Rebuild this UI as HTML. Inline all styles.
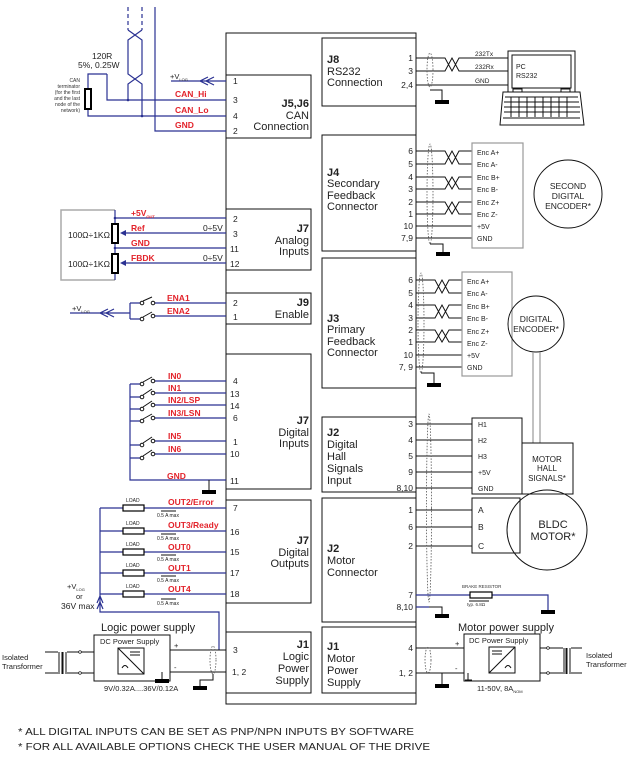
<!DOCTYPE html>
<html><head><meta charset="utf-8"><style>
html,body{margin:0;padding:0;background:#fff;}
svg{display:block;font-family:"Liberation Sans",Arial,sans-serif;}
.k{stroke:#111;stroke-width:1;fill:none}
.b{stroke:#2a3192;stroke-width:1.2;fill:none}
.g{stroke:#999;stroke-width:1.2;fill:none}
.r{fill:#e3232b;font-weight:bold;font-size:8.5px}
.p{font-size:8.5px;fill:#222}
.t{font-size:11px;fill:#222}
.s{font-size:7.5px;fill:#222}
.d{stroke:#555;stroke-width:0.8;fill:none;stroke-dasharray:1.5,1.5}
</style></head><body>
<svg width="637" height="760" viewBox="0 0 637 760" xmlns="http://www.w3.org/2000/svg">
<defs>
<g id="gnd"><rect x="-7" y="0" width="14" height="4" fill="#000"/></g>
</defs>
<!-- main boxes -->
<path class="k" d="M226,33 H416 V704 H226 Z"/>
<rect class="k" x="226" y="75" width="85" height="63" fill="#fff"/>
<rect class="k" x="226" y="209" width="85" height="61" fill="#fff"/>
<rect class="k" x="226" y="293" width="85" height="31" fill="#fff"/>
<rect class="k" x="226" y="354" width="85" height="135" fill="#fff"/>
<rect class="k" x="226" y="500" width="85" height="103" fill="#fff"/>
<rect class="k" x="226" y="632" width="85" height="61" fill="#fff"/>
<rect class="k" x="322" y="38" width="94" height="68" fill="#fff"/>
<rect class="k" x="322" y="135" width="94" height="116" fill="#fff"/>
<rect class="k" x="322" y="258" width="94" height="130" fill="#fff"/>
<rect class="k" x="322" y="417" width="94" height="75" fill="#fff"/>
<rect class="k" x="322" y="498" width="94" height="124" fill="#fff"/>
<rect class="k" x="322" y="627" width="94" height="66" fill="#fff"/>

<!-- left box titles -->
<g class="t" text-anchor="end">
<text x="309" y="107" font-weight="bold">J5,J6</text><text x="309" y="119">CAN</text><text x="309" y="130">Connection</text>
<text x="309" y="232" font-weight="bold">J7</text><text x="309" y="244">Analog</text><text x="309" y="255">Inputs</text>
<text x="309" y="306" font-weight="bold">J9</text><text x="309" y="318">Enable</text>
<text x="309" y="424" font-weight="bold">J7</text><text x="309" y="436">Digital</text><text x="309" y="447">Inputs</text>
<text x="309" y="544" font-weight="bold">J7</text><text x="309" y="556">Digital</text><text x="309" y="567">Outputs</text>
<text x="309" y="648" font-weight="bold">J1</text><text x="309" y="660">Logic</text><text x="309" y="672">Power</text><text x="309" y="684">Supply</text>
</g>
<g class="t">
<text x="327" y="63" font-weight="bold">J8</text><text x="327" y="75">RS232</text><text x="327" y="86">Connection</text>
<text x="327" y="176" font-weight="bold">J4</text><text x="327" y="187">Secondary</text><text x="327" y="199">Feedback</text><text x="327" y="210">Connector</text>
<text x="327" y="322" font-weight="bold">J3</text><text x="327" y="333">Primary</text><text x="327" y="345">Feedback</text><text x="327" y="356">Connector</text>
<text x="327" y="436" font-weight="bold">J2</text><text x="327" y="448">Digital</text><text x="327" y="460">Hall</text><text x="327" y="472">Signals</text><text x="327" y="484">Input</text>
<text x="327" y="552" font-weight="bold">J2</text><text x="327" y="564">Motor</text><text x="327" y="576">Connector</text>
<text x="327" y="650" font-weight="bold">J1</text><text x="327" y="662">Motor</text><text x="327" y="674">Power</text><text x="327" y="686">Supply</text>
</g>

<!-- left pins -->
<g class="p">
<text x="233" y="84">1</text><text x="233" y="103">3</text><text x="233" y="119">4</text><text x="233" y="134">2</text>
<text x="233" y="222">2</text><text x="233" y="237">3</text><text x="230" y="252">11</text><text x="230" y="267">12</text>
<text x="233" y="306">2</text><text x="233" y="320">1</text>
<text x="233" y="384">4</text><text x="230" y="397">13</text><text x="230" y="409">14</text><text x="233" y="421">6</text><text x="233" y="445">1</text><text x="230" y="457">10</text><text x="230" y="484">11</text>
<text x="233" y="511">7</text><text x="230" y="535">16</text><text x="230" y="555">15</text><text x="230" y="576">17</text><text x="230" y="597">18</text>
<text x="233" y="653">3</text><text x="232" y="675">1, 2</text>
</g>
<!-- right pins -->
<g class="p" text-anchor="end">
<text x="413" y="61">1</text><text x="413" y="74">3</text><text x="413" y="88">2,4</text>
<text x="413" y="154">6</text><text x="413" y="167">5</text><text x="413" y="180">4</text><text x="413" y="192">3</text><text x="413" y="205">2</text><text x="413" y="217">1</text><text x="413" y="229">10</text><text x="413" y="241">7,9</text>
<text x="413" y="283">6</text><text x="413" y="296">5</text><text x="413" y="308">4</text><text x="413" y="321">3</text><text x="413" y="333">2</text><text x="413" y="345">1</text><text x="413" y="358">10</text><text x="413" y="370">7, 9</text>
<text x="413" y="427">3</text><text x="413" y="443">4</text><text x="413" y="459">5</text><text x="413" y="475">9</text><text x="413" y="491">8,10</text>
<text x="413" y="513">1</text><text x="413" y="530">6</text><text x="413" y="549">2</text>
<text x="413" y="598">7</text><text x="413" y="610">8,10</text>
<text x="413" y="651">4</text><text x="413" y="676">1, 2</text>
</g>

<!-- CAN -->
<path class="b" d="M128,7 V30 M142,7 V30" stroke-dasharray="4,3"/>
<path class="b" d="M155,7 V131 H226 M128,30 L142,40 V74 L128,84 V100 M142,30 L128,40 V74 L142,84 V116"/>
<path class="b" d="M107,74 H88 V116 H226 M107,74 V100 H226"/>
<rect x="85" y="89" width="6" height="20" fill="#fff" stroke="#000" stroke-width="2"/>
<circle cx="128" cy="100" r="1.3" fill="#2a3192"/><circle cx="142" cy="116" r="1.3" fill="#2a3192"/>
<path class="b" d="M171,81 H226 M208,77 L200,81 L208,85 M214,77 L206,81 L214,85"/>
<text class="s" x="170" y="79">+V<tspan font-size="4" dy="2">LOG</tspan></text>
<text class="p" x="92" y="59">120R</text><text class="p" x="78" y="68">5%, 0.25W</text>
<g font-size="5" fill="#333" text-anchor="end"><text x="80" y="82">CAN</text><text x="80" y="88">terminator</text><text x="80" y="94">(for the first</text><text x="80" y="100">and the last</text><text x="80" y="106">node of the</text><text x="80" y="112">network)</text></g>
<text class="r" x="175" y="97">CAN_Hi</text><text class="r" x="175" y="113">CAN_Lo</text><text class="r" x="175" y="128">GND</text>

<!-- Analog -->
<path stroke="#aaa" stroke-width="1.5" fill="none" d="M115,210 H61 V280 H115"/>
<path class="b" d="M115,218 H226 M115,248 H226 M115,210 V280 M122,233 H226 M122,263 H226"/>
<path fill="#2a3192" d="M120,233 l6,-3 v6z M120,263 l6,-3 v6z"/>
<circle cx="115" cy="218" r="1.3" fill="#2a3192"/><circle cx="115" cy="248" r="1.3" fill="#2a3192"/>
<rect x="112" y="224" width="6" height="19" fill="#fff" stroke="#000" stroke-width="2"/>
<rect x="112" y="254" width="6" height="19" fill="#fff" stroke="#000" stroke-width="2"/>
<text class="p" x="68" y="238">100Ω÷1KΩ</text><text class="p" x="68" y="267">100Ω÷1KΩ</text>
<text class="r" x="131" y="216">+5V<tspan font-size="4" dy="2">OUT</tspan></text>
<text class="r" x="131" y="231">Ref</text><text class="r" x="131" y="246">GND</text><text class="r" x="131" y="261">FBDK</text>
<text class="p" x="203" y="231">0÷5V</text><text class="p" x="203" y="261">0÷5V</text>

<!-- Enable -->
<path class="b" d="M70,313 H130 M130,303 V319 M130,303 H140 M130,319 H140 M155,303 H226 M155,316 H226 M108,309 L100,313 L108,317 M114,309 L106,313 L114,317"/>
<text class="s" x="72" y="311">+V<tspan font-size="4" dy="2">LOG</tspan></text>
<g class="k" stroke-width="0.8"><circle cx="142" cy="303" r="1.8"/><circle cx="153" cy="303" r="1.8"/><path d="M143,301 L152,297"/><circle cx="142" cy="319" r="1.8"/><circle cx="153" cy="316" r="1.8"/><path d="M143,317 L152,312"/></g>
<text class="r" x="167" y="301">ENA1</text><text class="r" x="167" y="314">ENA2</text>

<!-- Digital inputs -->
<path class="b" d="M130,384 V480 H226 M130,384 H140 M130,397 H140 M130,409 H140 M130,421 H140 M130,445 H140 M130,458 H140 M155,381 H226 M155,393 H226 M155,405 H226 M155,418 H226 M155,441 H226 M155,454 H226"/>
<g class="k" stroke-width="0.8">
<circle cx="142" cy="384" r="1.8"/><circle cx="153" cy="381" r="1.8"/><path d="M143,382 L152,377"/>
<circle cx="142" cy="397" r="1.8"/><circle cx="153" cy="393" r="1.8"/><path d="M143,395 L152,389"/>
<circle cx="142" cy="409" r="1.8"/><circle cx="153" cy="405" r="1.8"/><path d="M143,407 L152,401"/>
<circle cx="142" cy="421" r="1.8"/><circle cx="153" cy="418" r="1.8"/><path d="M143,419 L152,414"/>
<circle cx="142" cy="445" r="1.8"/><circle cx="153" cy="441" r="1.8"/><path d="M143,443 L152,437"/>
<circle cx="142" cy="458" r="1.8"/><circle cx="153" cy="454" r="1.8"/><path d="M143,456 L152,450"/>
</g>
<text class="r" x="168" y="379">IN0</text><text class="r" x="168" y="391">IN1</text><text class="r" x="168" y="403">IN2/LSP</text><text class="r" x="168" y="416">IN3/LSN</text><text class="r" x="168" y="439">IN5</text><text class="r" x="168" y="452">IN6</text><text class="r" x="167" y="479">GND</text>
<path class="k" d="M209,480 V490"/><use href="#gnd" x="209" y="490"/>

<!-- Digital outputs -->
<path class="b" d="M100,508 V610 M100,508 H123 M144,508 H226 M100,531 H123 M144,531 H226 M100,552 H123 M144,552 H226 M100,573 H123 M144,573 H226 M100,594 H123 M144,594 H226 M97,603 L100,596 L103,603 M97,609 L100,602 L103,609 M100,610 V612 H219 V650"/>
<g fill="#fff" stroke="#000" stroke-width="1.2">
<rect x="123" y="505" width="21" height="6"/><rect x="123" y="528" width="21" height="6"/><rect x="123" y="549" width="21" height="6"/><rect x="123" y="570" width="21" height="6"/><rect x="123" y="591" width="21" height="6"/></g>
<g font-size="5" fill="#222"><text x="126" y="502">LOAD</text><text x="126" y="525">LOAD</text><text x="126" y="546">LOAD</text><text x="126" y="567">LOAD</text><text x="126" y="588">LOAD</text>
<text x="157" y="517">0.5 A max</text><text x="157" y="540">0.5 A max</text><text x="157" y="561">0.5 A max</text><text x="157" y="582">0.5 A max</text><text x="157" y="605">0.5 A max</text></g>
<path class="k" stroke-width="0.6" d="M161,511 H176 M161,534 H176 M161,555 H176 M161,576 H176 M161,599 H176"/>
<text class="r" x="168" y="505">OUT2/Error</text><text class="r" x="168" y="528">OUT3/Ready</text><text class="r" x="168" y="550">OUT0</text><text class="r" x="168" y="571">OUT1</text><text class="r" x="168" y="592">OUT4</text>
<text class="s" x="67" y="589">+V<tspan font-size="4" dy="2">LOG</tspan></text><text class="s" x="76" y="599">or</text><text class="p" x="61" y="609">36V max</text>

<!-- logic power supply -->
<text class="t" x="101" y="631" font-size="12">Logic power supply</text>
<rect class="k" x="94" y="635" width="76" height="46"/>
<text class="s" x="100" y="644" font-size="7.5">DC Power Supply</text>
<rect class="k" x="118" y="648" width="26" height="26"/><path class="k" d="M118,648 L144,674 M130,652 H140 M130,655 H140 M122,668 q3,-5 6,0"/>
<path class="k" d="M170,650 H226 M170,672 H226 M162,672 V680"/><use href="#gnd" x="162" y="679" transform="scale(1)"/>
<text class="s" x="174" y="648">+</text><text class="s" x="174" y="670">-</text>
<ellipse class="d" cx="213" cy="660" rx="3" ry="14"/>
<path class="k" d="M213,674 V680 H200 V686"/><use href="#gnd" x="200" y="686"/>
<path class="k" d="M45,652 H58 M45,673 H58 M67,652 H80 M67,673 H80 M80,652 H94 M80,673 H94"/>
<path class="k" stroke-width="0.8" d="M59,652 V674 M66,652 V674 M62,652 V674 M63,652 V674"/>
<circle cx="80" cy="652" r="1.3" fill="#fff" stroke="#000" stroke-width="0.6"/><circle cx="80" cy="673" r="1.3" fill="#fff" stroke="#000" stroke-width="0.6"/>
<text class="s" x="2" y="660">Isolated</text><text class="s" x="2" y="669">Transformer</text>
<text class="s" x="104" y="691">9V/0.32A....36V/0.12A</text>

<!-- J8 RS232 -->
<path class="k" d="M416,58 H445 L452,71 L459,58 H508 M416,71 H445 L452,58 L459,71 H508 M416,85 H508"/>
<ellipse class="d" cx="430" cy="70" rx="3" ry="17"/>
<path class="k" d="M430,90 H442 V100"/><use href="#gnd" x="442" y="100"/>
<g font-size="6.5" fill="#222"><text x="475" y="56">232Tx</text><text x="475" y="69">232Rx</text><text x="475" y="83">GND</text></g>
<path class="k" d="M508,51 H575 V92 H508 Z M512,55 H571 V88 H512 Z M503,92 H580 L584,125 H500 Z M503,118 H580"/>
<path class="k" stroke-width="0.6" d="M505,97 H578 M504,102 H579 M504,107 H580 M504,112 H580 M511,97 V117 M519,97 V117 M527,97 V117 M535,97 V117 M543,97 V117 M551,97 V117 M559,97 V117 M567,97 V117"/>
<rect class="k" x="513" y="89" width="9" height="3"/><rect class="k" x="561" y="89" width="9" height="3"/>
<g font-size="7" fill="#222"><text x="516" y="69">PC</text><text x="516" y="78">RS232</text></g>

<!-- J4 -->
<path class="k" d="M416,151 H445 L452,164 L459,151 H472 M416,164 H445 L452,151 L459,164 H472 M416,177 H445 L452,189 L459,177 H472 M416,189 H445 L452,177 L459,189 H472 M416,202 H445 L452,214 L459,202 H472 M416,214 H445 L452,202 L459,214 H472 M416,226 H472 M416,238 H472"/>
<ellipse class="d" cx="430" cy="194" rx="3" ry="50"/>
<path class="k" d="M430,244 H443 V252"/><use href="#gnd" x="443" y="252"/>
<rect class="g" x="472" y="143" width="51" height="105"/>
<g font-size="7" fill="#222"><text x="477" y="155">Enc A+</text><text x="477" y="167">Enc A-</text><text x="477" y="180">Enc B+</text><text x="477" y="192">Enc B-</text><text x="477" y="205">Enc Z+</text><text x="477" y="217">Enc Z-</text><text x="477" y="229">+5V</text><text x="477" y="241">GND</text></g>
<circle class="k" stroke="#444" cx="568" cy="194" r="34"/>
<g font-size="8.5" fill="#222" text-anchor="middle"><text x="568" y="189">SECOND</text><text x="568" y="199">DIGITAL</text><text x="568" y="209">ENCODER*</text></g>

<!-- J3 -->
<path class="k" d="M416,280 H435 L442,293 L449,280 H462 M416,293 H435 L442,280 L449,293 H462 M416,305 H435 L442,318 L449,305 H462 M416,318 H435 L442,305 L449,318 H462 M416,330 H435 L442,342 L449,330 H462 M416,342 H435 L442,330 L449,342 H462 M416,355 H462 M416,367 H462"/>
<ellipse class="d" cx="421" cy="323" rx="3" ry="50"/>
<path class="k" d="M421,373 H434 V383"/><use href="#gnd" x="434" y="383"/>
<rect class="g" x="462" y="272" width="50" height="104"/>
<g font-size="7" fill="#222"><text x="467" y="284">Enc A+</text><text x="467" y="296">Enc A-</text><text x="467" y="309">Enc B+</text><text x="467" y="321">Enc B-</text><text x="467" y="334">Enc Z+</text><text x="467" y="346">Enc Z-</text><text x="467" y="358">+5V</text><text x="467" y="370">GND</text></g>
<circle class="k" stroke="#444" cx="536" cy="324" r="28"/>
<g font-size="8.5" fill="#222" text-anchor="middle"><text x="536" y="322">DIGITAL</text><text x="536" y="332">ENCODER*</text></g>
<path class="g" d="M533,352 V443 M540,352 V443"/>

<!-- J2 hall / motor -->
<path class="k" d="M416,424 H472 M416,440 H472 M416,456 H472 M416,472 H472 M416,488 H472 M416,510 H472 M416,527 H472 M416,546 H472"/>
<ellipse class="d" cx="429" cy="508" rx="2.5" ry="94"/>
<rect class="k" x="472" y="418" width="50" height="76"/>
<g font-size="7" fill="#222"><text x="478" y="427">H1</text><text x="478" y="443">H2</text><text x="478" y="459">H3</text><text x="478" y="475">+5V</text><text x="478" y="491">GND</text></g>
<circle class="k" stroke="#444" cx="547" cy="530" r="40"/>
<rect class="k" x="522" y="443" width="51" height="51" fill="#fff"/>
<g font-size="8" fill="#222" text-anchor="middle"><text x="547" y="462">MOTOR</text><text x="547" y="471">HALL</text><text x="547" y="481">SIGNALS*</text></g>
<rect class="k" x="472" y="498" width="48" height="55" fill="#fff"/>
<g font-size="8.5" fill="#222"><text x="478" y="513">A</text><text x="478" y="530">B</text><text x="478" y="549">C</text></g>
<g font-size="11" fill="#222" text-anchor="middle"><text x="553" y="528">BLDC</text><text x="553" y="540">MOTOR*</text></g>
<path class="b" d="M416,595 H470 M492,595 H548 V610 M416,607 H429"/>
<rect x="470" y="592" width="22" height="6" fill="#fff" stroke="#000" stroke-width="1.2"/>
<use href="#gnd" x="548" y="610"/>
<path class="k" d="M429,607 H442 V614"/><use href="#gnd" x="442" y="614"/>
<text font-size="4.5" fill="#333" x="462" y="588">BRAKE RESISTOR</text>
<text font-size="4.5" fill="#333" x="467" y="606">typ. 6.8Ω</text><path class="k" stroke-width="0.6" d="M469,601 H489"/>

<!-- Motor power supply -->
<text class="t" x="458" y="631" font-size="12">Motor power supply</text>
<rect class="k" x="464" y="634" width="76" height="47"/>
<text class="s" x="469" y="643">DC Power Supply</text>
<rect class="k" x="489" y="647" width="26" height="26"/><path class="k" d="M489,673 L515,647 M492,651 H502 M492,654 H502 M505,668 q3,-5 6,0"/>
<path class="k" d="M416,648 H464 M416,673 H464 M468,673 V680 M465,680 H472"/>
<text class="s" x="455" y="646">+</text><text class="s" x="455" y="671">-</text>
<ellipse class="d" cx="428" cy="660" rx="3" ry="13"/>
<path class="k" d="M428,673 H442 V684"/><use href="#gnd" x="442" y="684"/>
<path class="k" d="M540,648 H563 M540,673 H563 M571,648 H582 M571,673 H582"/>
<circle cx="548" cy="648" r="1.3" fill="#fff" stroke="#000" stroke-width="0.6"/><circle cx="548" cy="673" r="1.3" fill="#fff" stroke="#000" stroke-width="0.6"/>
<path class="k" stroke-width="0.8" d="M564,648 V674 M570,648 V674 M566,648 V674 M567,648 V674"/>
<text class="s" x="586" y="658">Isolated</text><text class="s" x="586" y="667">Transformer</text>
<text class="s" x="477" y="691">11-50V, 8A<tspan font-size="4" dy="2">NOM</tspan></text>

<!-- footer -->
<text x="18" y="735" font-size="10.5" fill="#222" textLength="396" lengthAdjust="spacingAndGlyphs">* ALL DIGITAL INPUTS CAN BE SET AS PNP/NPN INPUTS BY SOFTWARE</text>
<text x="18" y="750" font-size="10.5" fill="#222" textLength="412" lengthAdjust="spacingAndGlyphs">* FOR ALL AVAILABLE OPTIONS CHECK THE USER MANUAL OF THE DRIVE</text>
</svg>
</body></html>
